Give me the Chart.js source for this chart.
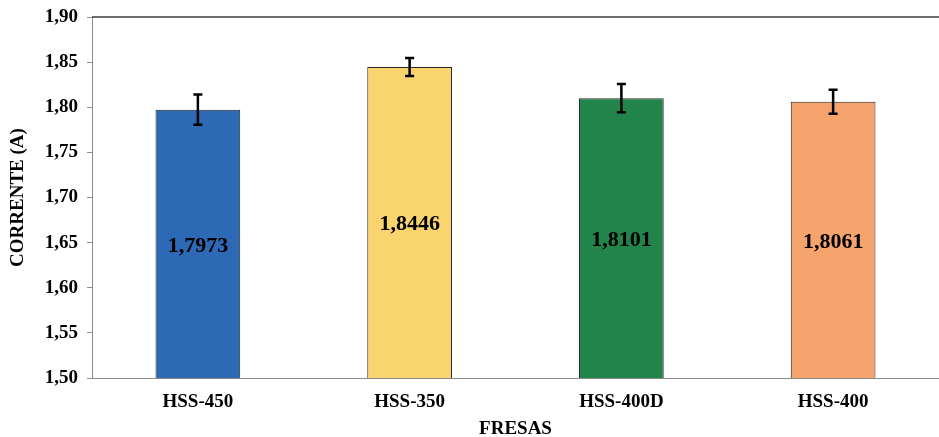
<!DOCTYPE html>
<html>
<head>
<meta charset="utf-8">
<script src="https://cdn.jsdelivr.net/npm/chart.js@4/dist/chart.umd.min.js"></script>
<style>
  html, body { margin: 0; padding: 0; background: #fff; }
  #wrap { width: 939px; height: 437px; overflow: hidden; }
</style>
</head>
<body>
<div id="wrap"><canvas id="grafico" width="939" height="437"></canvas></div>
<script>
// dados
const fresas = ['HSS-450', 'HSS-350', 'HSS-400D', 'HSS-400'];
const corrente = [1.7973, 1.8446, 1.8101, 1.8061];
const desvio = [0.0167, 0.0100, 0.0157, 0.0132];
const cores = ['#2D69B4', '#F9D46F', '#22844B', '#F5A46D'];

const fonte = '"Liberation Serif", "Times New Roman", serif';
const virgula = v => v.toFixed(2).replace('.', ',');

// barras de erro, valores e linha superior
const barrasErro = {
    id: 'barrasErro',
    afterDatasetsDraw(chart) {
        const ctx = chart.ctx;
        const y = chart.scales.y;
        const meta = chart.getDatasetMeta(0);
        ctx.save();
        ctx.strokeStyle = '#000';
        ctx.lineWidth = 2.5;
        meta.data.forEach((bar, i) => {
            const yTop = y.getPixelForValue(corrente[i] + desvio[i]);
            const yBot = y.getPixelForValue(corrente[i] - desvio[i]);
            ctx.beginPath();
            ctx.moveTo(bar.x, yTop);
            ctx.lineTo(bar.x, yBot);
            ctx.moveTo(bar.x - 4.5, yTop);
            ctx.lineTo(bar.x + 4.5, yTop);
            ctx.moveTo(bar.x - 4.5, yBot);
            ctx.lineTo(bar.x + 4.5, yBot);
            ctx.stroke();
        });
        ctx.fillStyle = '#000';
        ctx.font = 'bold 22px ' + fonte;
        ctx.textAlign = 'center';
        ctx.textBaseline = 'middle';
        meta.data.forEach((bar, i) => {
            const yv = y.getPixelForValue(corrente[i]);
            const txt = corrente[i].toFixed(4).replace('.', ',');
            ctx.fillText(txt, bar.x, (yv + y.bottom) / 2 + 2);
        });
        const a = chart.chartArea;
        ctx.strokeStyle = '#3c3c3c';
        ctx.lineWidth = 1.6;
        ctx.beginPath();
        ctx.moveTo(a.left, a.top);
        ctx.lineTo(a.right, a.top);
        ctx.stroke();
        ctx.restore();
    }
};

new Chart(document.getElementById('grafico'), {
    type: 'bar',
    data: {
        labels: fresas,
        datasets: [{
            data: corrente,
            backgroundColor: cores,
            borderColor: '#262626',
            borderWidth: 1,
            borderSkipped: false,
            categoryPercentage: 1,
            barPercentage: 0.4
        }]
    },
    plugins: [barrasErro],
    options: {
        responsive: false,
        animation: false,
        layout: { padding: { top: 17, right: -6, left: 0, bottom: 0 } },
        plugins: {
            legend: { display: false },
            tooltip: { enabled: false }
        },
        scales: {
            x: {
                grid: { display: false, drawTicks: false },
                border: { color: '#8c8c8c', width: 1 },
                ticks: { color: '#000', padding: 13, font: { family: fonte, size: 19, weight: 'bold' } },
                title: {
                    display: true, text: 'FRESAS', color: '#000',
                    padding: 0,
                    font: { family: fonte, size: 19, weight: 'bold', lineHeight: 0.8 }
                },
                afterFit(s) { s.height = 59; s.paddingLeft = 0; s.paddingRight = 0; }
            },
            y: {
                min: 1.5,
                max: 1.9,
                grid: { drawOnChartArea: false, tickLength: 5, color: '#8c8c8c' },
                border: { color: '#8c8c8c', width: 1 },
                ticks: {
                    stepSize: 0.05, color: '#000', padding: 9,
                    font: { family: fonte, size: 19, weight: 'bold' },
                    callback: v => virgula(v)
                },
                title: {
                    display: true, text: 'CORRENTE (A)', color: '#000',
                    padding: { top: 7, bottom: 0 },
                    font: { family: fonte, size: 19, weight: 'bold' }
                },
                afterFit(s) { s.width = 92; s.paddingTop = 0; s.paddingBottom = 0; }
            }
        }
    }
});
</script>
</body>
</html>
